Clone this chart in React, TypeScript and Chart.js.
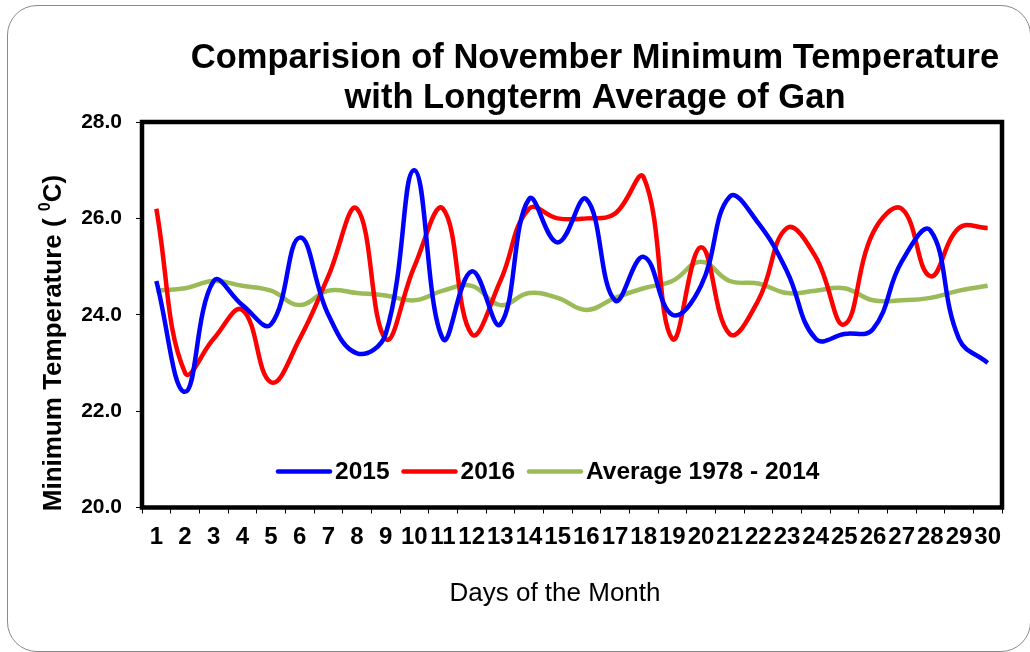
import React, { useEffect, useRef } from "react";
import { Chart, registerables } from "chart.js";

Chart.register(...registerables);

const days = ["1","2","3","4","5","6","7","8","9","10","11","12","13","14","15","16","17","18","19","20","21","22","23","24","25","26","27","28","29","30"];
const temp2015 = [24.7, 22.4, 24.7, 24.2, 23.8, 25.6, 24.0, 23.2, 23.6, 27.0, 23.5, 24.9, 23.8, 26.4, 25.5, 26.4, 24.3, 25.2, 24.0, 24.6, 26.45, 25.9, 24.9, 23.5, 23.6, 23.7, 25.1, 25.75, 23.5, 23.0];
const temp2016 = [26.2, 22.8, 23.5, 24.1, 22.6, 23.5, 24.8, 26.2, 23.5, 25.0, 26.2, 23.6, 24.7, 26.2, 26.0, 26.0, 26.1, 26.85, 23.5, 25.4, 23.6, 24.3, 25.8, 25.2, 23.8, 25.7, 26.2, 24.8, 25.8, 25.8];
const avgTemp = [24.5, 24.55, 24.7, 24.6, 24.5, 24.2, 24.5, 24.45, 24.4, 24.3, 24.5, 24.6, 24.2, 24.45, 24.35, 24.1, 24.35, 24.55, 24.7, 25.1, 24.7, 24.65, 24.45, 24.5, 24.55, 24.3, 24.3, 24.35, 24.5, 24.6];
const seriesLabels = ["2015", "2016", "Average 1978 - 2014"];
const seriesColors = ["#0000FF", "#FF0000", "#9BBB59"];
const titleLines = ["Comparision of November Minimum Temperature", "with Longterm Average of Gan"];
const xTitle = "Days of the Month";

const FONT = '"Liberation Sans", Arial, sans-serif';

const decorPlugin = {
  id: "decor",
  afterDatasetsDraw(chart: any) {
    const { ctx, chartArea } = chart;
    const a = chartArea;
    ctx.save();
    // plot frame
    ctx.strokeStyle = "#000";
    ctx.lineWidth = 4.5;
    ctx.strokeRect(a.left, a.top, a.right - a.left, a.bottom - a.top);

    // legend inside plot area
    ctx.font = `bold 24.5px ${FONT}`;
    ctx.textBaseline = "middle";
    ctx.textAlign = "left";
    let x = a.left + 136;
    const y = a.bottom - 36;
    chart.data.datasets.forEach((ds: any) => {
      ctx.strokeStyle = ds.borderColor;
      ctx.lineWidth = 4.5;
      ctx.lineCap = "round";
      ctx.beginPath();
      ctx.moveTo(x, y);
      ctx.lineTo(x + 52, y);
      ctx.stroke();
      x += 57;
      ctx.fillStyle = "#000";
      ctx.fillText(ds.label, x, y + 1);
      x += ctx.measureText(ds.label).width + 14;
    });
    ctx.restore();
  },
  afterDraw(chart: any) {
    const { ctx } = chart;
    ctx.save();
    ctx.fillStyle = "#000";
    // title
    ctx.font = `bold 34.5px ${FONT}`;
    ctx.textAlign = "center";
    ctx.textBaseline = "middle";
    ctx.fillText(titleLines[0], 595, 58);
    ctx.fillText(titleLines[1], 595, 98);
    // x title
    ctx.font = `26px ${FONT}`;
    ctx.fillText(xTitle, 555, 594);
    // y title (rotated), with superscript 0
    ctx.translate(54, 343);
    ctx.rotate(-Math.PI / 2);
    const p1 = "Minimum Temperature ( ";
    const p2 = "0";
    const p3 = "C)";
    ctx.font = `bold 26px ${FONT}`;
    const w1 = ctx.measureText(p1).width;
    const w3 = ctx.measureText(p3).width;
    ctx.font = `bold 16px ${FONT}`;
    const w2 = ctx.measureText(p2).width;
    const total = w1 + w2 + w3;
    let sx = -total / 2;
    ctx.textAlign = "left";
    ctx.font = `bold 26px ${FONT}`;
    ctx.fillText(p1, sx, 0);
    sx += w1;
    ctx.font = `bold 16px ${FONT}`;
    ctx.fillText(p2, sx, -8);
    sx += w2;
    ctx.font = `bold 26px ${FONT}`;
    ctx.fillText(p3, sx, 0);
    ctx.restore();
  },
};

export default function App() {
  const ref = useRef<HTMLCanvasElement | null>(null);
  useEffect(() => {
    if (!ref.current) return;
    const series = [temp2015, temp2016, avgTemp];
    const chart = new Chart(ref.current, {
      type: "line",
      data: {
        labels: days,
        datasets: series.map((d, i) => ({
          label: seriesLabels[i],
          data: d,
          borderColor: seriesColors[i],
          backgroundColor: seriesColors[i],
          borderWidth: 4.5,
          pointRadius: 0,
          tension: 0.42,
          fill: false,
        })),
      },
      options: {
        animation: false,
        responsive: false,
        devicePixelRatio: 1,
        layout: { padding: { left: 0, top: 122, right: 28, bottom: 0 } },
        plugins: { legend: { display: false }, title: { display: false }, tooltip: { enabled: false } },
        scales: {
          x: {
            offset: true,
            afterFit: (s: any) => { s.height = 144.5; },
            grid: { offset: true, drawOnChartArea: false, drawTicks: true, tickLength: 6, color: "#000", tickColor: "#000", lineWidth: 1 },
            border: { display: false },
            ticks: { autoSkip: false, maxRotation: 0, minRotation: 0, padding: 9, color: "#000", font: { family: FONT, size: 24, weight: "bold" } },
          },
          y: {
            min: 20,
            max: 28,
            afterFit: (s: any) => { s.width = 142; },
            grid: { drawOnChartArea: false, drawTicks: true, tickLength: 6, color: "#000", tickColor: "#000", lineWidth: 1 },
            border: { display: false },
            ticks: { stepSize: 2, padding: 14, color: "#000", font: { family: FONT, size: 21, weight: "bold" }, callback: (v: any) => Number(v).toFixed(1) },
          },
        },
      },
      plugins: [decorPlugin],
    });
    return () => chart.destroy();
  }, []);
  return (
    <div style={{ position: "absolute", left: 0, top: 0, width: 1030, height: 652, background: "#fff", overflow: "hidden" }}>
      <div style={{ position: "absolute", left: 7, top: 5, width: 1024, height: 647, border: "1.5px solid #8a8a8a", borderRadius: 30, boxSizing: "border-box" }} />
      <canvas ref={ref} width={1030} height={652} style={{ position: "absolute", left: 0, top: 0, width: 1030, height: 652 }} />
    </div>
  );
}
